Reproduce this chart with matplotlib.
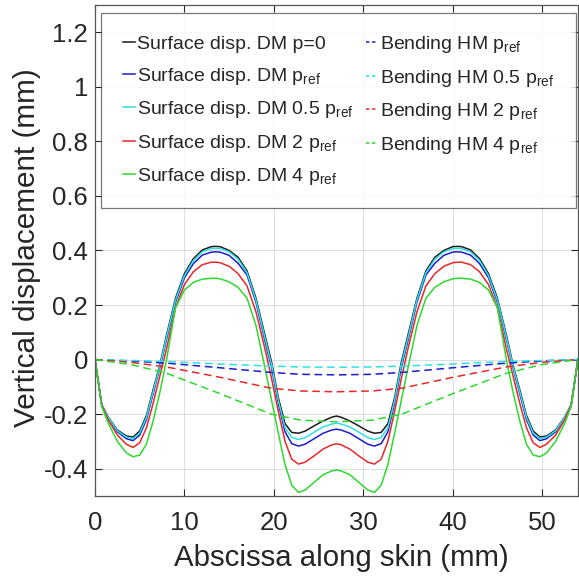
import matplotlib
matplotlib.use('Agg')
import matplotlib.pyplot as plt
import numpy as np

plt.rcParams['font.family'] = ['Liberation Sans', 'DejaVu Sans']
plt.rcParams['mathtext.default'] = 'regular'

# abscissa of the surface displacement samples (mm)
x_dm = [0, 0.75, 1.5, 2.5, 3.5, 4.25, 5, 5.75, 6.5, 7.25, 8, 9, 10, 11, 12, 13, 13.5, 14, 15,
        16, 17, 18, 19, 19.75, 20.5, 21.25, 22, 22.75, 23.5, 24.5, 25.5, 26.5, 27,
        27.5, 28.5, 29.5, 30.5, 31.25, 32, 32.75, 33.5, 34.25, 35, 36, 37, 38, 39, 40, 40.5,
        41, 42, 43, 44, 45, 46, 46.75, 47.5, 48.25, 49, 49.75, 50.5, 51.5, 52.5, 53.25, 54]

dm_p0 = [0, -0.165, -0.212, -0.258, -0.28, -0.284, -0.262, -0.205, -0.11, -0.02, 0.09, 0.225,
         0.315, 0.37, 0.402, 0.414, 0.415, 0.414, 0.4, 0.375, 0.325, 0.225, 0.09, -0.01, -0.14,
         -0.235, -0.267, -0.27, -0.262, -0.243, -0.225, -0.211, -0.207,
         -0.211, -0.225, -0.243, -0.262, -0.27, -0.267, -0.235, -0.14, -0.01, 0.09, 0.225, 0.325,
         0.375, 0.4, 0.414, 0.415, 0.414, 0.402, 0.37, 0.315, 0.225, 0.09, -0.02, -0.11, -0.205,
         -0.262, -0.284, -0.28, -0.258, -0.212, -0.165, 0]

dm_p1 = [0, -0.166, -0.215, -0.265, -0.29, -0.297, -0.277, -0.22, -0.125, -0.03, 0.075, 0.21,
         0.3, 0.352, 0.383, 0.394, 0.395, 0.394, 0.382, 0.353, 0.31, 0.21, 0.07, -0.03, -0.16,
         -0.265, -0.308, -0.317, -0.31, -0.29, -0.27, -0.258, -0.255,
         -0.258, -0.27, -0.29, -0.31, -0.317, -0.308, -0.265, -0.16, -0.03, 0.07, 0.21, 0.31,
         0.353, 0.382, 0.394, 0.395, 0.394, 0.383, 0.352, 0.3, 0.21, 0.075, -0.03, -0.125, -0.22,
         -0.277, -0.297, -0.29, -0.265, -0.215, -0.166, 0]

dm_p05 = [0, -0.165, -0.213, -0.261, -0.284, -0.29, -0.269, -0.212, -0.117, -0.025, 0.083, 0.218,
          0.308, 0.363, 0.395, 0.407, 0.408, 0.407, 0.395, 0.368, 0.318, 0.218, 0.08, -0.02, -0.15,
          -0.25, -0.285, -0.293, -0.286, -0.266, -0.247, -0.236, -0.233,
          -0.236, -0.247, -0.266, -0.286, -0.293, -0.285, -0.25, -0.15, -0.02, 0.08, 0.218, 0.318,
          0.368, 0.395, 0.407, 0.408, 0.407, 0.395, 0.363, 0.308, 0.218, 0.083, -0.025, -0.117,
          -0.212, -0.269, -0.29, -0.284, -0.261, -0.213, -0.165, 0]

dm_p2 = [0, -0.168, -0.222, -0.277, -0.31, -0.322, -0.305, -0.25, -0.16, -0.06, 0.04, 0.19,
         0.275, 0.322, 0.348, 0.357, 0.357, 0.355, 0.342, 0.315, 0.27, 0.175, 0.04, -0.07, -0.19,
         -0.3, -0.365, -0.383, -0.376, -0.353, -0.328, -0.312, -0.309,
         -0.312, -0.328, -0.353, -0.376, -0.383, -0.365, -0.3, -0.19, -0.07, 0.04, 0.175, 0.27,
         0.315, 0.342, 0.355, 0.357, 0.357, 0.348, 0.322, 0.275, 0.19, 0.04, -0.06, -0.16, -0.25,
         -0.305, -0.322, -0.31, -0.277, -0.222, -0.168, 0]

dm_p4 = [0, -0.172, -0.235, -0.3, -0.342, -0.356, -0.35, -0.31, -0.225, -0.12, 0, 0.19,
         0.255, 0.283, 0.295, 0.298, 0.298, 0.296, 0.285, 0.265, 0.225, 0.125, -0.03, -0.15, -0.27,
         -0.385, -0.46, -0.487, -0.478, -0.45, -0.422, -0.408, -0.405,
         -0.408, -0.422, -0.45, -0.478, -0.487, -0.46, -0.385, -0.27, -0.15, -0.03, 0.125, 0.225,
         0.265, 0.285, 0.296, 0.298, 0.298, 0.295, 0.283, 0.255, 0.19, 0, -0.12, -0.225, -0.31,
         -0.35, -0.356, -0.342, -0.3, -0.235, -0.172, 0]

# bending of the homogenised model (mm)
x_hm = [0, 4, 8, 14, 19.7, 23, 27, 31, 34.3, 40, 46, 50, 54]
hm_p1 = [0, -0.005, -0.013, -0.03, -0.047, -0.054, -0.056, -0.054, -0.047, -0.03, -0.013, -0.005, 0]
hm_p05 = [0, -0.003, -0.007, -0.016, -0.024, -0.027, -0.028, -0.027, -0.024, -0.016, -0.007, -0.003, 0]
hm_p2 = [0, -0.01, -0.027, -0.065, -0.105, -0.115, -0.118, -0.115, -0.105, -0.065, -0.027, -0.01, 0]
hm_p4 = [0, -0.018, -0.05, -0.125, -0.2, -0.222, -0.228, -0.222, -0.2, -0.125, -0.05, -0.018, 0]

c_k = '#1a1a1a'
c_b = '#1c1ccc'
c_c = '#2ee0e6'
c_r = '#e62828'
c_g = '#2ed82e'

fig = plt.figure(figsize=(5.79, 5.77), dpi=100)
ax = fig.add_axes([0.1641, 0.1404, 0.834, 0.851])

lw = 1.1
dash = (0, (5, 3))
ax.plot(x_dm, dm_p0, color=c_k, lw=lw, label='Surface disp. DM p=0')
ax.plot(x_dm, dm_p1, color=c_b, lw=lw, label='Surface disp. DM p$_{ref}$')
ax.plot(x_dm, dm_p05, color=c_c, lw=lw, label='Surface disp. DM 0.5 p$_{ref}$')
ax.plot(x_dm, dm_p2, color=c_r, lw=lw, label='Surface disp. DM 2 p$_{ref}$')
ax.plot(x_dm, dm_p4, color=c_g, lw=lw, label='Surface disp. DM 4 p$_{ref}$')
ax.plot(x_hm, hm_p1, color=c_b, lw=lw, ls=dash, label='Bending HM p$_{ref}$')
ax.plot(x_hm, hm_p05, color=c_c, lw=lw, ls=dash, label='Bending HM 0.5 p$_{ref}$')
ax.plot(x_hm, hm_p2, color=c_r, lw=lw, ls=dash, label='Bending HM 2 p$_{ref}$')
ax.plot(x_hm, hm_p4, color=c_g, lw=lw, ls=dash, label='Bending HM 4 p$_{ref}$')

ax.set_xlim(0, 54)
ax.set_ylim(-0.5, 1.3)
ax.set_xticks([0, 10, 20, 30, 40, 50])
ax.set_yticks([-0.4, -0.2, 0, 0.2, 0.4, 0.6, 0.8, 1, 1.2])
ax.set_yticklabels(['-0.4', '-0.2', '0', '0.2', '0.4', '0.6', '0.8', '1', '1.2'])
ax.grid(True, color='#d8d8d8', lw=0.6)
ax.set_axisbelow(True)
ax.tick_params(direction='in', top=True, right=True, length=5, width=0.8,
               colors='#262626', labelsize=18.5)
ax.tick_params(axis='x', pad=11)
ax.tick_params(axis='y', pad=5)
for s in ax.spines.values():
    s.set_color('#555555')
    s.set_linewidth(0.9)

ax.set_xlabel('Abscissa along skin (mm)', fontsize=21.2, color='#262626')
ax.set_ylabel('Vertical displacement (mm)', fontsize=21.4, color='#262626')
ax.xaxis.set_label_coords(0.51, -0.097)
ax.yaxis.set_label_coords(-0.112, 0.505)

leg = ax.legend(ncol=2, loc='upper left', bbox_to_anchor=(0.013, 0.984, 0.983, 0.0),
                mode='expand', fontsize=14, frameon=True, fancybox=False,
                handlelength=0.65, handletextpad=0.1, columnspacing=0.2,
                labelspacing=0.64, borderpad=1.1, borderaxespad=0)
leg.get_frame().set_edgecolor('#555555')
leg.get_frame().set_linewidth(0.9)
for t in leg.get_texts():
    t.set_color('#262626')
for ln in leg.get_lines()[5:]:
    ln.set_dashes((2.2, 1.8))

fig.savefig('out.png', dpi=100)
